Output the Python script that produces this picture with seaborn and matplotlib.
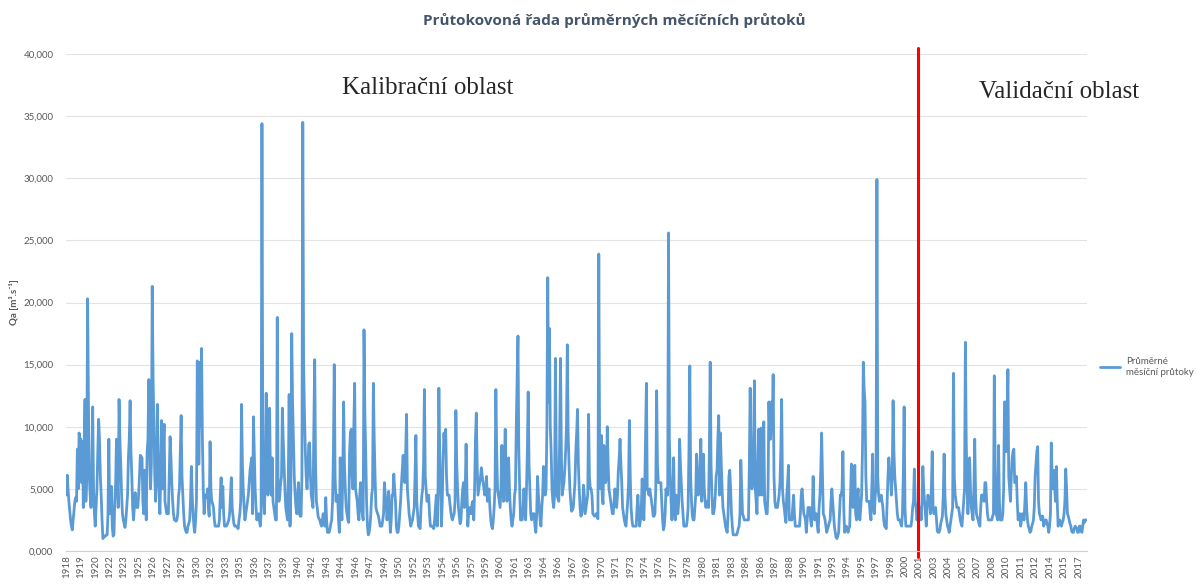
import numpy as np
import pandas as pd
import matplotlib
matplotlib.use("Agg")
from matplotlib import pyplot as plt
import seaborn as sns

# monthly mean flows Qa [m3/s], one row = one year (12 months)
first_year = 1918

flow_1918_1927 = [
    4.5, 6.1, 5.0, 4.0, 3.2, 2.5, 2.0, 1.7, 2.5, 3.3, 4.0, 4.3,
    4.0, 8.2, 5.0, 9.5, 9.0, 9.0, 5.5, 8.8, 3.5, 8.8, 12.2, 4.0,
    6.0, 20.3, 12.0, 6.0, 4.5, 3.5, 6.0, 11.6, 5.0, 3.0, 2.0, 3.5,
    5.0, 8.0, 10.6, 9.0, 6.0, 4.5, 2.5, 1.0, 1.1, 1.2, 1.2, 1.3,
    1.3, 3.0, 9.0, 3.0, 4.0, 5.2, 2.0, 1.2, 1.3, 4.0, 5.5, 9.0,
    6.0, 3.5, 12.2, 9.0, 7.0, 4.5, 3.0, 2.5, 2.2, 1.9, 2.5, 3.5,
    4.5, 7.5, 9.0, 12.1, 8.0, 6.0, 3.5, 2.5, 3.5, 4.7, 4.0, 3.5,
    3.5, 4.5, 6.0, 7.7, 7.6, 7.5, 4.0, 3.0, 6.5, 4.0, 2.5, 8.0,
    9.0, 13.8, 8.0, 5.0, 7.0, 21.3, 14.0, 10.0, 6.0, 4.0, 6.0, 11.8,
    8.0, 5.0, 3.0, 6.0, 10.5, 5.0, 8.0, 10.2, 4.0, 3.5, 3.0, 3.0,
]
flow_1928_1937 = [
    3.0, 6.0, 9.2, 7.5, 5.5, 4.0, 3.0, 2.5, 2.5, 2.4, 2.5, 3.0,
    4.5, 5.0, 8.0, 10.9, 6.0, 4.5, 3.0, 2.0, 1.7, 1.5, 1.5, 2.0,
    2.2, 2.5, 4.0, 6.8, 4.5, 3.0, 2.0, 1.5, 2.5, 4.0, 15.3, 7.0,
    7.0, 15.2, 10.0, 16.3, 9.0, 5.0, 3.0, 4.5, 4.4, 4.3, 5.0, 3.5,
    2.8, 8.8, 5.0, 4.0, 3.8, 3.5, 2.5, 2.0, 2.0, 2.0, 2.0, 2.0,
    2.5, 4.5, 5.9, 3.5, 5.2, 3.0, 2.0, 2.0, 2.0, 2.1, 2.3, 2.5,
    3.0, 4.5, 5.9, 3.5, 2.8, 2.2, 2.0, 2.0, 2.0, 1.9, 1.8, 2.5,
    3.0, 4.0, 11.8, 7.0, 5.0, 3.5, 2.5, 3.0, 3.5, 4.0, 4.5, 5.5,
    6.5, 7.0, 7.5, 3.0, 10.8, 8.0, 5.0, 3.5, 2.5, 2.8, 3.0, 2.5,
    2.0, 3.0, 34.4, 8.0, 4.0, 3.0, 7.0, 12.7, 8.0, 4.5, 6.0, 11.5,
]
flow_1938_1947 = [
    6.0, 4.5, 7.5, 4.0, 3.5, 3.0, 2.5, 2.5, 18.8, 5.0, 4.0, 4.5,
    5.5, 6.0, 11.5, 9.0, 7.0, 5.0, 3.5, 3.0, 2.5, 6.0, 12.6, 2.0,
    5.0, 17.5, 12.0, 9.0, 6.0, 4.5, 3.5, 3.0, 4.5, 5.5, 3.0, 2.8,
    2.8, 6.0, 34.5, 15.0, 11.0, 8.0, 6.0, 5.0, 6.5, 8.6, 8.7, 6.0,
    4.5, 4.0, 3.5, 10.0, 15.4, 7.0, 4.0, 3.5, 2.8, 2.6, 2.5, 2.2,
    2.0, 2.5, 3.0, 2.5, 2.0, 4.3, 2.5, 1.5, 1.5, 1.5, 1.8, 2.2,
    2.5, 4.0, 8.0, 15.0, 6.0, 4.0, 4.2, 4.5, 2.5, 1.5, 7.5, 4.0,
    2.5, 6.0, 12.0, 7.0, 5.0, 3.5, 3.0, 2.5, 2.3, 8.0, 9.5, 9.8,
    6.0, 5.0, 10.0, 13.5, 5.0, 4.5, 4.0, 3.0, 2.5, 4.5, 5.5, 3.5,
    3.0, 2.5, 17.8, 11.0, 8.0, 4.0, 2.0, 1.3, 1.5, 2.0, 3.0, 4.5,
]
flow_1948_1957 = [
    5.0, 13.5, 9.0, 6.0, 3.5, 3.2, 3.0, 2.8, 2.4, 2.0, 2.0, 2.0,
    2.5, 3.0, 5.5, 4.5, 4.0, 2.5, 3.5, 4.8, 3.0, 1.5, 2.5, 4.5,
    4.5, 6.2, 5.0, 4.0, 2.0, 1.5, 1.5, 2.0, 3.0, 4.0, 5.4, 6.5,
    7.7, 6.0, 5.5, 8.0, 11.0, 5.0, 4.0, 3.0, 2.5, 2.0, 2.3, 2.5,
    3.0, 3.5, 6.0, 9.3, 4.0, 3.0, 2.0, 1.9, 1.8, 3.5, 4.5, 5.0,
    7.0, 13.0, 6.0, 5.0, 4.0, 4.2, 4.5, 3.0, 2.0, 2.0, 2.0, 1.9,
    1.8, 2.5, 3.5, 4.5, 2.0, 5.0, 13.1, 8.0, 5.0, 2.0, 4.0, 7.5,
    9.5, 8.0, 9.8, 6.0, 4.5, 4.5, 4.5, 3.8, 3.2, 2.7, 2.5, 2.8,
    3.0, 4.0, 11.3, 7.0, 5.0, 3.5, 2.8, 2.2, 2.5, 4.0, 5.0, 5.5,
    3.5, 5.0, 8.6, 5.0, 2.0, 3.0, 3.5, 3.2, 3.0, 3.8, 4.0, 2.5,
]
flow_1958_1967 = [
    5.0, 9.0, 11.1, 7.0, 4.5, 5.0, 5.5, 6.0, 6.7, 6.0, 5.5, 5.0,
    4.5, 5.0, 6.0, 4.0, 4.5, 5.0, 3.5, 2.5, 2.0, 1.8, 2.5, 3.5,
    5.0, 13.0, 8.0, 5.0, 4.5, 4.0, 3.5, 5.0, 8.5, 6.0, 4.0, 7.0,
    9.8, 6.0, 4.0, 5.5, 7.5, 5.0, 3.5, 2.5, 2.0, 2.5, 3.0, 4.5,
    5.0, 10.0, 14.0, 17.3, 8.0, 5.0, 2.5, 2.5, 2.5, 3.5, 5.0, 3.5,
    2.5, 5.0, 8.0, 12.8, 7.0, 5.0, 3.0, 2.5, 3.0, 3.0, 3.0, 2.0,
    1.5, 3.0, 6.0, 4.5, 3.5, 2.5, 2.0, 3.5, 4.5, 6.8, 5.0, 4.5,
    5.0, 10.0, 22.0, 12.0, 17.9, 10.0, 8.0, 5.0, 4.0, 3.5, 4.5, 15.5,
    8.0, 4.5, 4.2, 4.0, 9.0, 15.5, 8.0, 4.5, 5.0, 5.5, 6.5, 8.0,
    10.0, 16.6, 9.5, 7.0, 5.0, 4.0, 3.2, 3.3, 3.5, 4.5, 5.5, 8.0,
]
flow_1968_1977 = [
    9.5, 11.4, 7.0, 5.0, 3.5, 2.8, 3.0, 3.5, 5.3, 4.5, 3.0, 3.5,
    4.0, 4.5, 11.0, 6.0, 5.0, 5.0, 4.5, 3.0, 2.9, 2.8, 2.9, 3.0,
    2.8, 2.6, 23.9, 8.0, 5.0, 9.3, 4.5, 3.8, 8.5, 6.0, 5.5, 6.0,
    10.0, 7.0, 5.0, 4.5, 4.0, 3.5, 3.0, 3.0, 4.0, 5.0, 4.0, 3.5,
    4.5, 6.5, 7.5, 9.0, 7.0, 5.5, 3.5, 3.0, 2.5, 2.2, 2.0, 3.0,
    4.0, 5.5, 10.5, 6.0, 3.5, 2.5, 2.0, 2.0, 2.0, 2.0, 2.0, 3.5,
    4.5, 3.0, 2.0, 2.5, 3.5, 5.8, 4.0, 2.5, 5.0, 9.0, 13.5, 5.0,
    4.8, 4.5, 5.0, 4.5, 4.0, 3.5, 2.8, 2.8, 3.0, 5.0, 12.9, 7.0,
    5.5, 5.5, 5.5, 5.5, 4.0, 2.5, 1.7, 2.0, 3.0, 5.0, 4.5, 4.5,
    25.6, 9.0, 6.0, 4.0, 2.5, 4.0, 7.5, 3.5, 2.5, 4.5, 3.5, 3.0,
]
flow_1978_1987 = [
    4.0, 9.0, 7.0, 5.5, 4.0, 3.0, 2.0, 2.0, 2.0, 2.0, 2.5, 3.5,
    8.0, 14.9, 6.0, 4.0, 2.8, 2.5, 2.5, 3.5, 4.5, 7.8, 5.5, 4.5,
    5.0, 7.0, 9.0, 4.0, 6.0, 7.8, 5.0, 4.0, 3.5, 4.0, 3.8, 3.5,
    8.0, 15.2, 7.0, 4.5, 3.0, 3.0, 3.5, 4.5, 6.0, 6.5, 9.0, 10.9,
    4.5, 9.5, 7.0, 5.0, 3.5, 3.0, 2.5, 2.0, 1.7, 1.5, 3.0, 6.0,
    6.5, 5.0, 3.0, 2.0, 1.3, 1.3, 1.3, 1.3, 1.3, 1.5, 1.8, 2.0,
    3.0, 7.3, 5.0, 3.0, 2.8, 2.5, 2.5, 2.5, 2.5, 2.5, 2.5, 7.0,
    13.1, 7.0, 5.0, 5.5, 9.0, 13.7, 5.0, 4.0, 3.0, 7.0, 9.8, 4.5,
    8.0, 9.9, 4.5, 8.0, 10.4, 4.0, 3.5, 3.0, 3.0, 5.0, 12.0, 9.0,
    9.0, 12.0, 10.0, 14.2, 6.0, 4.0, 3.5, 3.5, 3.5, 4.0, 4.5, 5.5,
]
flow_1988_1997 = [
    8.0, 12.2, 5.0, 4.0, 3.5, 2.8, 2.3, 4.5, 5.5, 6.9, 2.5, 2.5,
    2.5, 2.5, 3.5, 4.5, 3.0, 2.0, 2.0, 2.0, 2.0, 2.0, 2.0, 3.0,
    4.5, 5.0, 4.0, 3.0, 2.8, 2.5, 1.5, 2.5, 3.5, 3.5, 3.5, 2.5,
    2.0, 3.0, 6.0, 3.5, 2.5, 2.8, 3.0, 2.0, 1.5, 3.5, 4.5, 6.5,
    9.5, 6.0, 3.0, 2.8, 2.5, 2.0, 1.5, 1.8, 2.0, 2.3, 2.5, 4.0,
    5.0, 4.0, 3.0, 2.0, 1.5, 1.1, 1.0, 1.2, 1.5, 3.0, 4.5, 4.5,
    5.0, 8.0, 3.5, 1.5, 1.8, 2.0, 1.8, 1.5, 1.8, 2.0, 4.5, 7.0,
    4.5, 3.5, 5.0, 6.9, 3.0, 2.5, 4.5, 5.0, 3.0, 2.5, 3.5, 4.5,
    8.0, 15.2, 13.0, 12.0, 6.0, 4.0, 4.0, 4.0, 4.0, 3.0, 2.5, 5.0,
    7.8, 3.5, 3.0, 4.5, 5.0, 29.9, 6.0, 4.5, 4.0, 4.2, 4.5, 4.0,
]
flow_1998_2007 = [
    3.5, 2.5, 2.0, 1.9, 1.8, 4.0, 6.0, 7.5, 6.5, 6.0, 4.5, 6.0,
    12.1, 8.0, 6.0, 5.0, 4.0, 3.0, 2.5, 2.5, 2.5, 2.2, 2.0, 3.0,
    6.0, 11.6, 3.5, 2.0, 2.0, 2.0, 2.0, 2.0, 2.0, 2.0, 2.5, 3.5,
    4.0, 6.6, 4.0, 3.5, 2.5, 2.8, 3.0, 3.2, 3.5, 2.5, 4.0, 6.8,
    5.0, 4.0, 3.0, 2.0, 3.5, 4.5, 4.0, 4.0, 3.0, 5.0, 8.0, 3.5,
    3.0, 3.2, 3.5, 2.5, 1.6, 1.5, 1.5, 1.7, 2.2, 2.5, 2.8, 4.5,
    7.8, 4.5, 3.0, 2.5, 2.0, 1.8, 1.5, 2.0, 2.5, 3.0, 3.5, 14.3,
    6.0, 4.5, 4.0, 3.5, 3.5, 3.5, 3.0, 2.5, 2.2, 2.0, 3.0, 4.0,
    5.0, 16.8, 9.0, 5.0, 3.0, 5.0, 7.5, 5.0, 3.5, 3.0, 2.5, 5.0,
    9.0, 4.5, 3.0, 2.7, 2.5, 2.2, 2.0, 3.5, 4.5, 4.5, 4.5, 4.0,
]
flow_2008_2017 = [
    5.5, 5.5, 4.0, 3.0, 2.5, 2.5, 2.5, 2.5, 2.5, 2.8, 3.0, 14.1,
    7.0, 3.0, 2.8, 2.5, 8.5, 4.0, 2.5, 2.5, 2.5, 3.0, 5.0, 12.0,
    12.0, 8.0, 10.0, 14.6, 6.0, 5.0, 4.0, 6.0, 7.5, 8.0, 8.2, 5.5,
    5.5, 6.0, 4.0, 2.5, 2.8, 3.0, 2.0, 2.5, 3.0, 2.8, 2.5, 4.0,
    5.5, 3.5, 2.5, 2.0, 1.8, 1.5, 1.6, 2.0, 2.2, 2.5, 3.5, 6.0,
    7.0, 8.0, 8.4, 4.0, 3.0, 2.8, 2.5, 2.8, 2.8, 2.0, 2.2, 2.5,
    2.5, 2.2, 2.0, 1.5, 2.0, 3.0, 8.7, 6.0, 5.0, 6.5, 5.0, 4.0,
    6.8, 4.0, 2.0, 2.3, 2.5, 2.2, 2.0, 2.3, 2.5, 3.0, 4.0, 6.6,
    5.0, 3.0, 2.8, 2.5, 2.2, 2.0, 1.6, 1.5, 1.5, 1.8, 2.0, 1.9,
    1.8, 1.5, 1.5, 2.0, 2.0, 1.6, 1.5, 2.0, 2.5, 2.3, 2.5, 2.5,
]

y_ticks = [0, 5, 10, 15, 20, 25, 30, 35, 40]
split_month = 1001   # start of validation period (2001)
label_step = 17      # excel shows every 17th category label

flow = np.concatenate([flow_1918_1927, flow_1928_1937, flow_1938_1947,
                       flow_1948_1957, flow_1958_1967, flow_1968_1977,
                       flow_1978_1987, flow_1988_1997, flow_1998_2007,
                       flow_2008_2017])
df = pd.DataFrame({"mesic": np.arange(len(flow)), "Qa": flow})

sns.set_style("white")
plt.rcParams["font.family"] = ["Lato", "DejaVu Sans"]

fig = plt.figure(figsize=(11.98, 5.84), dpi=100)
ax = fig.add_axes([0.055, 0.0565, 0.852, 0.851])

sns.lineplot(data=df, x="mesic", y="Qa", color="#5B9BD5", linewidth=2.0,
             label="Průměrné\nměsíční průtoky", ax=ax)

ax.set_xlim(-0.5, len(flow) - 0.5)
ax.set_ylim(0, 40)
ax.set_yticks(y_ticks)
ax.set_yticklabels([f"{v:.3f}".replace(".", ",") for v in y_ticks],
                   fontsize=7, color="#595959")

tick_pos = np.arange(0, len(flow), label_step)
ax.set_xticks(tick_pos)
ax.set_xticklabels([str(first_year + p // 12) for p in tick_pos],
                   rotation=90, fontsize=7, color="#595959")
ax.tick_params(axis="x", length=0, pad=3)
ax.tick_params(axis="y", length=0, pad=9)

ax.yaxis.grid(True, color="#E3E3E3", linewidth=0.8)
ax.set_axisbelow(True)
for s in ["top", "right", "left"]:
    ax.spines[s].set_visible(False)
ax.spines["bottom"].set_color("#D0D0D0")
ax.spines["bottom"].set_linewidth(0.8)

ax.set_xlabel("")
ax.set_ylabel("Qa [m³.s⁻¹]", fontsize=7, fontweight="bold", color="#595959")
ax.yaxis.set_label_coords(-0.046, 0.5)

# hranice kalibrace / validace
ax.axvline(split_month, ymin=-0.012, ymax=1.012, color="red", linewidth=2.2,
           clip_on=False)

leg = ax.legend(loc="center left", bbox_to_anchor=(1.005, 0.37), frameon=False,
                fontsize=7, handlelength=2.0, handletextpad=0.6)
for t in leg.get_texts():
    t.set_color("#595959")

fig.text(0.513, 0.965, "Průtokovoná řada průměrných měcíčních průtoků",
         ha="center", va="center", fontsize=11, fontweight="bold",
         color="#44546A", family=["Open Sans", "DejaVu Sans"])
fig.text(428 / 1198, 1 - 88 / 584, "Kalibrační oblast", ha="center",
         va="center", fontsize=18, family=["Liberation Serif"])
fig.text(1059 / 1198, 1 - 92 / 584, "Validační oblast", ha="center",
         va="center", fontsize=18, family=["Liberation Serif"])

fig.savefig("out.png", dpi=100)
